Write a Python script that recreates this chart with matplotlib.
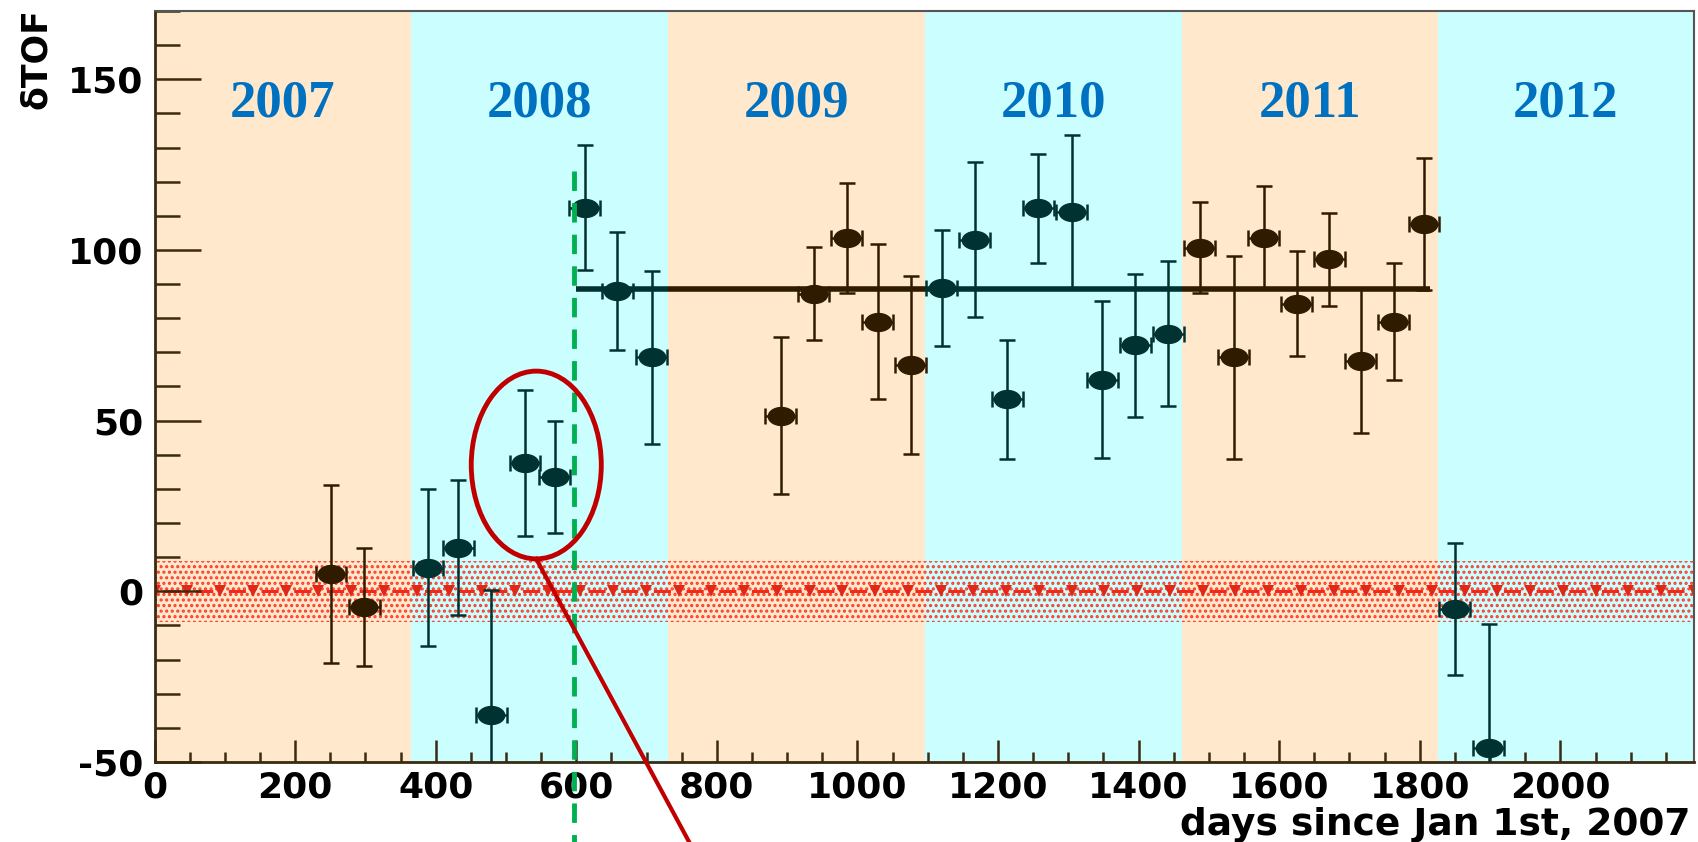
import numpy as np
import matplotlib.pyplot as plt
from matplotlib.patches import Ellipse
from matplotlib.path import Path

# measurements: day since 2007-01-01, delta TOF and its error
days = [251, 298, 389, 432, 479, 527, 569, 612, 658, 707, 891, 938, 985,
        1029, 1076, 1120, 1167, 1213, 1257, 1305, 1348, 1395, 1442, 1487,
        1535, 1578, 1625, 1671, 1716, 1763, 1806, 1850, 1898]
dtof = [5.1, -4.6, 6.9, 12.8, -36.2, 37.6, 33.5, 112.4, 88.0, 68.5, 51.4,
        87.2, 103.6, 79.0, 66.3, 88.8, 103.0, 56.3, 112.2, 111.2, 62.0, 72.1,
        75.5, 100.7, 68.5, 103.6, 84.3, 97.2, 67.5, 79.0, 107.7, -5.1, -45.8]
dtof_err = [26.0, 17.2, 23.0, 19.8, 36.5, 21.3, 16.3, 18.3, 17.2, 25.4, 23.0,
            13.7, 16.1, 22.7, 26.0, 16.9, 22.7, 17.4, 16.0, 22.5, 23.0, 20.9,
            21.2, 13.3, 29.8, 15.0, 15.5, 13.7, 21.0, 17.2, 19.3, 19.3, 36.2]
day_err = 22

years = [2007, 2008, 2009, 2010, 2011, 2012]
year_start = [0, 365, 731, 1096, 1461, 1826, 2190]

fit_value = 88.5
fit_range = (600, 1815)
expected_band = 9.0
cut_day = 597

band_colors = ["#FFE8CB", "#CBFEFF"]
point_colors = ["#2f1b00", "#003232"]

plt.rcParams["axes.unicode_minus"] = False
plt.rcParams["hatch.linewidth"] = 1.5

fig = plt.figure(figsize=(16.99, 8.42), dpi=100)
ax = fig.add_axes([0.091, 0.095, 0.906, 0.892])
ax.set_xlim(0, 2190)
ax.set_ylim(-50, 170)

for i, yr in enumerate(years):
    ax.axvspan(year_start[i], year_start[i + 1], color=band_colors[i % 2],
               lw=0, zorder=0)
    ax.text((year_start[i] + year_start[i + 1]) / 2, 143, str(yr),
            ha="center", va="center", fontsize=38, fontweight="bold",
            family="Liberation Serif", color="#0070C0", zorder=2)

# expected value band
ax.fill_between([0, 2190], -expected_band, expected_band, facecolor="none",
                edgecolor="#FF3A28", hatch="...", lw=0, zorder=1)
xs = np.linspace(0, 2190, 48)
ax.plot(xs, np.zeros_like(xs), ls=(8.1, (5.6, 5.1)), color="#F02A18", lw=2.2,
        zorder=1.5)
ax.plot(xs, np.zeros_like(xs), ls="none", marker="v", ms=9, mew=0,
        color="#E02818", zorder=1.5)

# fit line, coloured per year band
for i in range(len(years)):
    a = max(year_start[i], fit_range[0])
    b = min(year_start[i + 1], fit_range[1])
    if a < b:
        ax.plot([a, b], [fit_value, fit_value], color=point_colors[i % 2],
                lw=4, solid_capstyle="butt", zorder=3)

t = np.linspace(0, 2 * np.pi, 40)
oval = Path(np.column_stack([np.cos(t), 0.68 * np.sin(t)]))

d = np.array(days)
v = np.array(dtof)
e = np.array(dtof_err)
for i in range(len(years)):
    sel = (d >= year_start[i]) & (d < year_start[i + 1])
    if sel.any():
        ax.errorbar(d[sel], v[sel], yerr=e[sel], xerr=day_err, fmt="none",
                    ecolor=point_colors[i % 2], elinewidth=1.8, capsize=6,
                    capthick=1.8, zorder=4)
        ax.plot(d[sel], v[sel], ls="none", marker=oval, ms=19,
                color=point_colors[i % 2], zorder=5)

# vertical cut line and highlight
ax.plot([cut_day, cut_day], [123, -74], color="#00B050", lw=3.5,
        ls=(0, (4, 2.5)), clip_on=False, zorder=6)
ax.add_patch(Ellipse((543, 37), 185, 55, fill=False, ec="#C00000", lw=3.5,
                     zorder=7))
ax.plot([543, 762], [9.5, -74], color="#C00000", lw=3, clip_on=False,
        zorder=7)

ax.set_xticks(np.arange(0, 2001, 200))
ax.set_xticks(np.arange(0, 2190, 50), minor=True)
ax.set_yticks(np.arange(-50, 151, 50))
ax.set_yticks(np.arange(-50, 171, 10), minor=True)
ax.tick_params(axis="both", which="both", direction="in", color="#3a2a10",
               width=1.8, top=False, right=False)
ax.tick_params(axis="x", which="major", length=16, pad=6)
ax.tick_params(axis="x", which="minor", length=7)
ax.tick_params(axis="y", which="major", length=33, pad=8)
ax.tick_params(axis="y", which="minor", length=18)
for lab in ax.get_xticklabels() + ax.get_yticklabels():
    lab.set_fontsize(26)
    lab.set_fontweight("bold")
    lab.set_family("DejaVu Sans")

for s in ["left", "bottom"]:
    ax.spines[s].set_color("#3a2a10")
    ax.spines[s].set_linewidth(2)
for s in ["top", "right"]:
    ax.spines[s].set_color("#555555")
    ax.spines[s].set_linewidth(1.5)

fig.text(0.995, 0.008, "days since Jan 1st, 2007", ha="right",
         va="baseline", fontsize=27, fontweight="bold", family="DejaVu Sans")
fig.text(0.021, 0.99, "\u03b4TOF", rotation=90, ha="center", va="top",
         fontsize=25, fontweight="bold", family="DejaVu Sans")

fig.savefig("out.png", dpi=100)
